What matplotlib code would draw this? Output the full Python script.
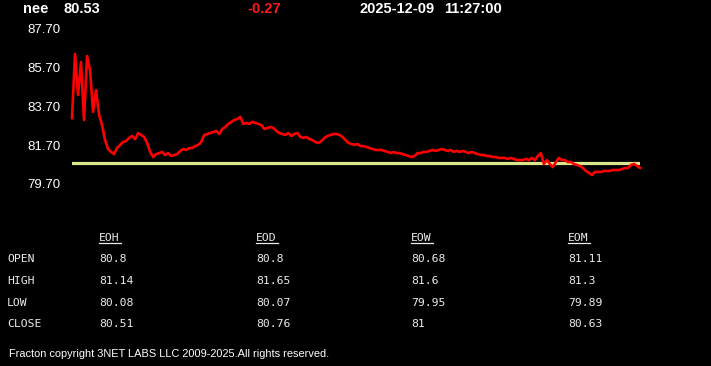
import numpy as np
import matplotlib
matplotlib.use("Agg")
import matplotlib.pyplot as plt
from matplotlib.lines import Line2D

# header
symbol = "nee"
last_price = "80.53"
change = "-0.27"
stamp_date = "2025-12-09"
stamp_time = "11:27:00"
prev_close = 80.80

# intraday price path
prices = [
    83.09, 86.38, 84.28, 85.97, 82.99, 86.28, 85.56, 83.40, 84.53, 83.25,
    82.73, 81.96, 81.50, 81.35, 81.24, 81.55, 81.71, 81.86, 81.91, 82.07,
    82.17, 82.01, 82.32, 82.22, 82.12, 81.81, 81.35, 81.09, 81.24, 81.29,
    81.35, 81.19, 81.29, 81.14, 81.19, 81.24, 81.40, 81.50, 81.45, 81.55,
    81.55, 81.65, 81.71, 81.86, 82.22, 82.27, 82.32, 82.37, 82.43, 82.27,
    82.53, 82.63, 82.79, 82.89, 82.99, 83.04, 83.15, 82.79, 82.84, 82.79,
    82.89, 82.84, 82.79, 82.73, 82.53, 82.58, 82.63, 82.58, 82.43, 82.32,
    82.27, 82.22, 82.32, 82.17, 82.27, 82.32, 82.12, 82.07, 82.12, 82.01,
    81.96, 81.86, 81.81, 81.91, 82.07, 82.17, 82.22, 82.27, 82.27, 82.22,
    82.12, 81.96, 81.81, 81.76, 81.71, 81.76, 81.65, 81.65, 81.60, 81.55,
    81.50, 81.45, 81.45, 81.45, 81.40, 81.35, 81.29, 81.35, 81.29, 81.29,
    81.24, 81.19, 81.14, 81.09, 81.14, 81.29, 81.29, 81.35, 81.35, 81.40,
    81.45, 81.40, 81.45, 81.50, 81.45, 81.40, 81.45, 81.35, 81.40, 81.35,
    81.40, 81.35, 81.29, 81.35, 81.29, 81.24, 81.19, 81.19, 81.14, 81.14,
    81.09, 81.09, 81.04, 81.04, 81.04, 80.99, 81.04, 80.99, 80.93, 80.93,
    80.93, 80.99, 80.93, 81.04, 80.93, 81.14, 81.29, 80.73, 80.93, 80.73,
    80.57, 80.83, 81.04, 80.93, 80.93, 80.83, 80.83, 80.73, 80.68, 80.63,
    80.52, 80.37, 80.27, 80.16, 80.32, 80.32, 80.32, 80.37, 80.37, 80.37,
    80.42, 80.42, 80.42, 80.47, 80.52, 80.52, 80.68, 80.73, 80.63, 80.53,
]
y_ticks = [79.70, 81.70, 83.70, 85.70, 87.70]

# summary table
periods = ["EOH", "EOD", "EOW", "EOM"]
row_names = ["OPEN", "HIGH", "LOW", "CLOSE"]
table_vals = {
    "EOH": ["80.8", "81.14", "80.08", "80.51"],
    "EOD": ["80.8", "81.65", "80.07", "80.76"],
    "EOW": ["80.68", "81.6", "79.95", "81"],
    "EOM": ["81.11", "81.3", "79.89", "80.63"],
}
footer = "Fracton copyright 3NET LABS LLC 2009-2025.All rights reserved."

W, H = 711, 366
fig = plt.figure(figsize=(W / 100, H / 100), dpi=100, facecolor="black")

def fx(x):
    return x / W

def fy(y):
    return 1 - y / H

# chart area
top_px, bot_px = 28.4, 184.0
ax = fig.add_axes([fx(72), fy(bot_px), fx(640) - fx(72), (bot_px - top_px) / H])
ax.set_facecolor("black")
x = np.arange(len(prices))
ax.axhline(prev_close, color="#dce68a", lw=2.3, zorder=1)
ax.plot(x, prices, color="#ff0000", lw=1.9, zorder=2, clip_on=False)
ax.set_xlim(0, len(prices) - 1)
ax.set_ylim(y_ticks[0], y_ticks[-1])
ax.set_yticks(y_ticks)
ax.set_yticklabels(["%.2f" % t for t in y_ticks])
ax.set_xticks([])
ax.tick_params(axis="y", length=0, pad=8, labelcolor="white", labelsize=9.5)
for lab in ax.get_yticklabels():
    lab.set_fontfamily("Liberation Sans")
for s in ax.spines.values():
    s.set_visible(False)

# header line
hdr = dict(fontsize=10.5, fontweight="bold", family="Liberation Sans", va="center", ha="left")
fig.text(fx(23), fy(9), symbol, color="white", **hdr)
fig.text(fx(64), fy(9), last_price, color="white", **hdr)
fig.text(fx(247), fy(9), change, color="#ff1a1a", **hdr)
fig.text(fx(360), fy(9), stamp_date, color="white", **hdr)
fig.text(fx(444), fy(9), stamp_time, color="white", **hdr)

# table
mono = dict(fontsize=8.2, family="DejaVu Sans Mono", color="#ececec", va="center", ha="left")
col_x = [99, 256, 411, 568]
row_y = [259, 281, 303, 324]
for cx, p in zip(col_x, periods):
    fig.text(fx(cx), fy(238), p, **mono)
    fig.lines.append(Line2D([fx(cx), fx(cx + 22)], [fy(243), fy(243)],
                            transform=fig.transFigure, color="#ececec", lw=0.9))
    for ry, v in zip(row_y, table_vals[p]):
        fig.text(fx(cx), fy(ry), v, **mono)
for ry, name in zip(row_y, row_names):
    fig.text(fx(7), fy(ry), name, **mono)

fig.text(fx(9), fy(354), footer, color="white", fontsize=7.9,
         family="Liberation Sans", va="center", ha="left")

fig.savefig("out.png", dpi=100, facecolor="black")
